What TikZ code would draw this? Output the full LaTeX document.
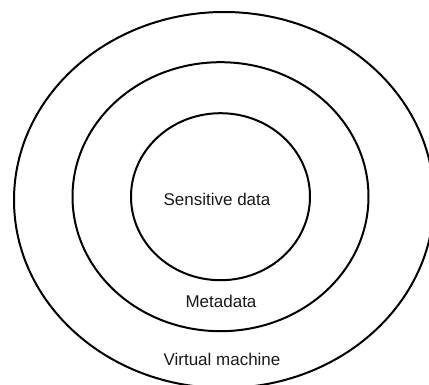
\documentclass[tikz,border=0pt]{standalone}
\usepackage{fontspec}
\setmainfont{Liberation Sans}
\usetikzlibrary{shapes.geometric}
\begin{document}
\begin{tikzpicture}[x=1pt,y=-1pt,
  ring/.style={draw=black, line width=2pt, ellipse, inner sep=0pt, outer sep=0pt},
  lbl/.style={font=\fontsize{17}{20}\selectfont, text=black!90, inner sep=0pt}]
\useasboundingbox (0,0) rectangle (429,385);
\clip (0,0) rectangle (429,385);
\node[ring, minimum width=420pt, minimum height=376pt] (vm) at (224,200) {};
\node[ring, minimum width=296pt, minimum height=269pt] (meta) at (220.5,196.7) {};
\node[ring, minimum width=179pt, minimum height=167pt] (sens) at (220.5,196.7) {};
\node[lbl] (tsens) at (217,199) {Sensitive data};
\node[lbl] (tmeta) at (221,301.5) {Metadata};
\node[lbl] (tvm) at (222,359) {Virtual machine};
\end{tikzpicture}
\end{document}
